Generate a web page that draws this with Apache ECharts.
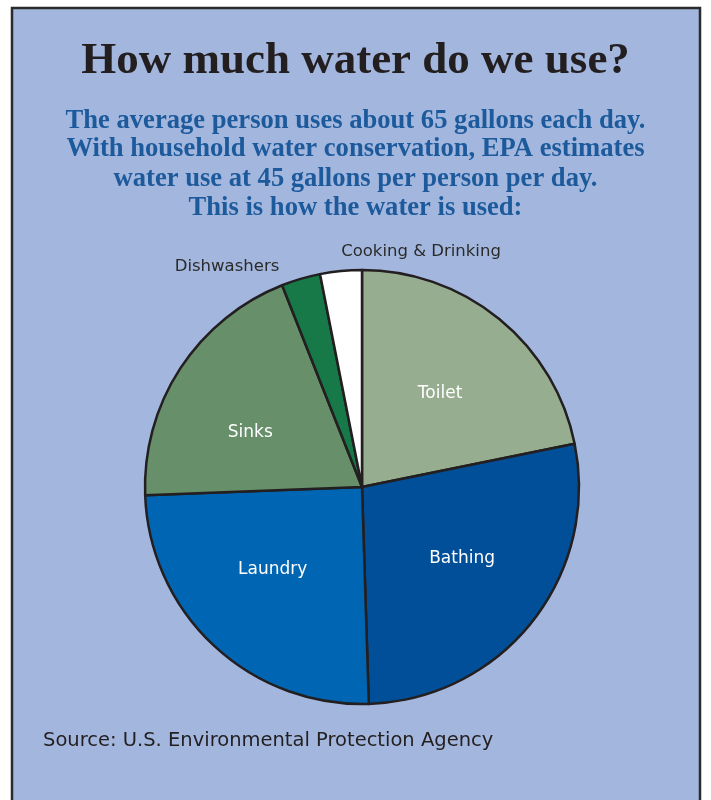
<!DOCTYPE html>
<html>
<head>
<meta charset="utf-8">
<script src="https://cdn.jsdelivr.net/npm/echarts@6/dist/echarts.min.js"></script>
<style>
html,body{margin:0;padding:0;background:#ffffff;}
#chart{width:711px;height:800px;}
</style>
</head>
<body>
<div id="chart"></div>
<script>
// ---- data ----
const titleText = 'How much water do we use?';
const subtitleLines = [
  'The average person uses about 65 gallons each day.',
  'With household water conservation, EPA estimates',
  'water use at 45 gallons per person per day.',
  'This is how the water is used:'
];
const categories = ['Toilet', 'Bathing', 'Laundry', 'Sinks', 'Dishwashers', 'Cooking & Drinking'];
const shares = [21.8, 27.7, 24.9, 19.6, 2.9, 3.1];
const sliceColors = ['#97ad90', '#004f98', '#0066b3', '#668f6a', '#177848', '#ffffff'];
const insideLabelled = ['Toilet', 'Bathing', 'Laundry', 'Sinks'];
const sourceText = 'Source: U.S. Environmental Protection Agency';

const BG = '#a3b7de';
const sans = '"DejaVu Sans", sans-serif';
const serif = '"Liberation Serif", serif';

const chart = echarts.init(document.getElementById('chart'), null, {renderer: 'canvas'});

const mainData = categories.map((c, i) => ({
  name: c,
  value: shares[i],
  itemStyle: {color: sliceColors[i]},
  label: insideLabelled.includes(c) ? {show: false} : {
    show: true, position: 'outside', color: '#2a2a2a', fontSize: 16.5, fontFamily: sans
  },
  labelLine: {show: false}
}));

const labelData = categories.map((c, i) => ({
  name: c,
  value: shares[i],
  label: {show: insideLabelled.includes(c)}
}));

// label placement tweaks (styling only)
const outsideLabelPos = {4: [227, 267], 5: [421, 252]};
const insideLabelShift = {0: [-1, 3], 1: [2, -6], 2: [-4, -9], 3: [-7, 14]};

const subtitleCenters = [121, 149, 179, 208];

chart.setOption({
  backgroundColor: '#ffffff',
  animation: false,
  graphic: [{
    type: 'rect', z: -10,
    shape: {x: 12, y: 8, width: 688, height: 820},
    style: {fill: BG, stroke: '#2b2b2b', lineWidth: 2.5}
  }],
  title: [{
    text: titleText,
    left: 'center', top: 39, padding: 0,
    textStyle: {fontFamily: serif, fontWeight: 'bold', fontSize: 45, lineHeight: 45, color: '#231f20'}
  }].concat(subtitleLines.map((t, i) => ({
    text: t,
    left: 'center', top: subtitleCenters[i] - 14.5, padding: 0,
    textStyle: {fontFamily: serif, fontWeight: 'bold', fontSize: 26.6, lineHeight: 29, color: '#1c5a9c'}
  }))).concat([{
    text: sourceText,
    left: 38, top: 726,
    textStyle: {fontFamily: sans, fontWeight: 'normal', fontSize: 19.5, color: '#231f20'}
  }]),
  series: [{
    type: 'pie',
    center: [362, 487],
    radius: 217,
    startAngle: 90,
    clockwise: true,
    silent: true,
    avoidLabelOverlap: false,
    itemStyle: {borderColor: '#231f20', borderWidth: 2.5},
    data: mainData,
    labelLayout: function (p) {
      const pos = outsideLabelPos[p.dataIndex];
      if (!pos) return {};
      return {x: pos[0], y: pos[1], align: 'center', verticalAlign: 'middle'};
    }
  }, {
    type: 'pie',
    center: [362, 487],
    radius: 244,
    startAngle: 90,
    clockwise: true,
    silent: true,
    z: 5,
    itemStyle: {color: 'rgba(0,0,0,0)', borderWidth: 0},
    label: {position: 'inside', color: '#ffffff', fontSize: 17, fontFamily: sans},
    labelLine: {show: false},
    data: labelData,
    labelLayout: function (p) {
      const s = insideLabelShift[p.dataIndex];
      if (!s) return {};
      return {dx: s[0], dy: s[1]};
    }
  }]
});
</script>
</body>
</html>
